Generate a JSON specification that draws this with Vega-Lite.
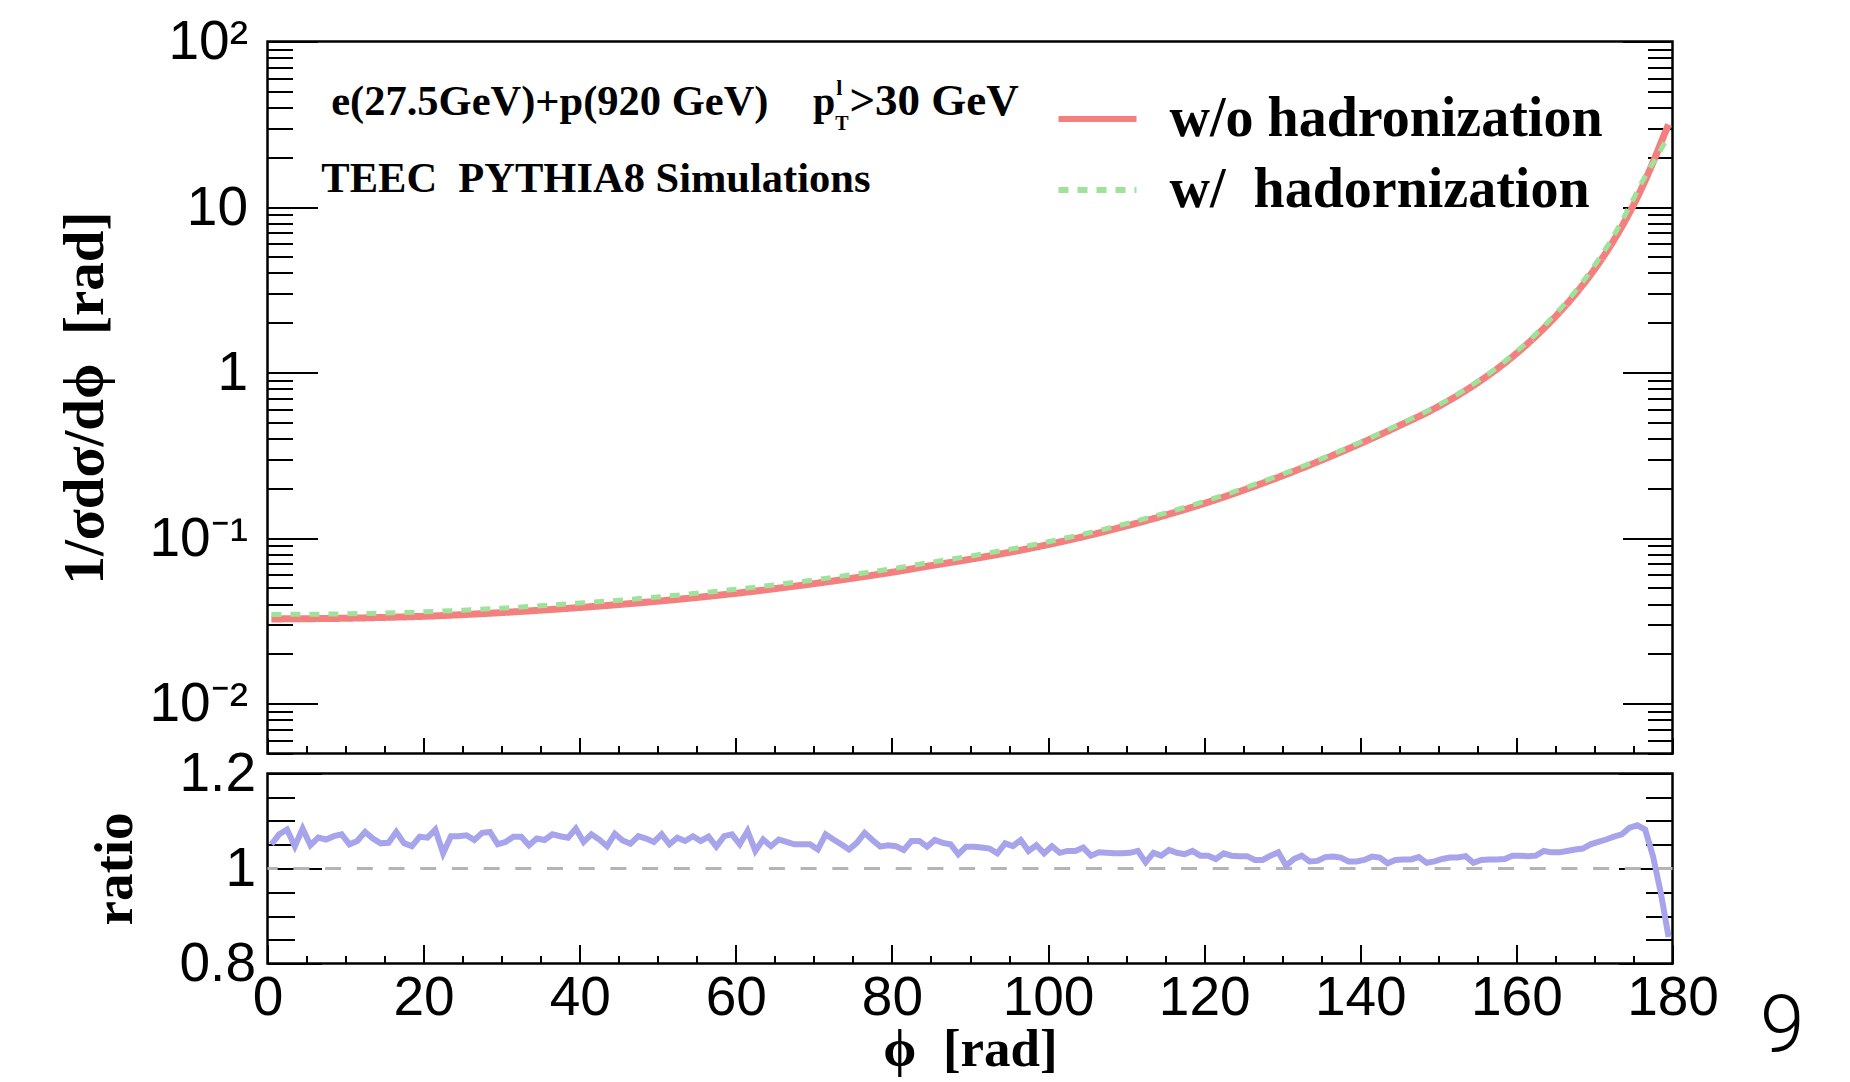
{
  "$schema": "https://vega.github.io/schema/vega-lite/v6.json",
  "padding": {"left": 54.5, "top": 12.5, "right": 5, "bottom": 5},
  "background": "white",
  "config": {
    "view": {"stroke": "black", "strokeWidth": 2.5},
    "axis": {"grid": false, "domain": false, "tickColor": "black", "tickWidth": 2, "labelColor": "black", "titleColor": "black", "labelFont": "Liberation Sans", "labelFontSize": 55, "titleFont": "Liberation Serif", "titleFontWeight": "bold", "titleFontSize": 52, "labelOverlap": false, "labelFlush": false, "labelBound": false}
  },
  "datasets": {
    "curves": [
      {"phi":0.5,"value":0.0325,"series":"w/o hadronization"},{"phi":5,"value":0.0326,"series":"w/o hadronization"},{"phi":10,"value":0.0328,"series":"w/o hadronization"},{"phi":15,"value":0.0332,"series":"w/o hadronization"},{"phi":20,"value":0.0337,"series":"w/o hadronization"},{"phi":25,"value":0.0345,"series":"w/o hadronization"},{"phi":30,"value":0.0355,"series":"w/o hadronization"},{"phi":35,"value":0.0367,"series":"w/o hadronization"},{"phi":40,"value":0.0381,"series":"w/o hadronization"},{"phi":45,"value":0.0397,"series":"w/o hadronization"},{"phi":50,"value":0.0416,"series":"w/o hadronization"},{"phi":55,"value":0.0438,"series":"w/o hadronization"},{"phi":60,"value":0.0464,"series":"w/o hadronization"},{"phi":65,"value":0.0495,"series":"w/o hadronization"},{"phi":70,"value":0.0531,"series":"w/o hadronization"},{"phi":75,"value":0.0573,"series":"w/o hadronization"},{"phi":80,"value":0.0622,"series":"w/o hadronization"},{"phi":85,"value":0.0682,"series":"w/o hadronization"},{"phi":90,"value":0.0745,"series":"w/o hadronization"},{"phi":95,"value":0.082,"series":"w/o hadronization"},{"phi":100,"value":0.0914,"series":"w/o hadronization"},{"phi":105,"value":0.1033,"series":"w/o hadronization"},{"phi":110,"value":0.1183,"series":"w/o hadronization"},{"phi":115,"value":0.1374,"series":"w/o hadronization"},{"phi":120,"value":0.1619,"series":"w/o hadronization"},{"phi":125,"value":0.1946,"series":"w/o hadronization"},{"phi":130,"value":0.2378,"series":"w/o hadronization"},{"phi":135,"value":0.2953,"series":"w/o hadronization"},{"phi":140,"value":0.3725,"series":"w/o hadronization"},{"phi":145,"value":0.4778,"series":"w/o hadronization"},{"phi":150,"value":0.6238,"series":"w/o hadronization"},{"phi":155,"value":0.8664,"series":"w/o hadronization"},{"phi":158,"value":1.094,"series":"w/o hadronization"},{"phi":160,"value":1.304,"series":"w/o hadronization"},{"phi":162,"value":1.58,"series":"w/o hadronization"},{"phi":164,"value":1.948,"series":"w/o hadronization"},{"phi":166,"value":2.449,"series":"w/o hadronization"},{"phi":168,"value":3.161,"series":"w/o hadronization"},{"phi":170,"value":4.203,"series":"w/o hadronization"},{"phi":172,"value":5.794,"series":"w/o hadronization"},{"phi":174,"value":8.387,"series":"w/o hadronization"},{"phi":175,"value":10.29,"series":"w/o hadronization"},{"phi":176,"value":12.85,"series":"w/o hadronization"},{"phi":177,"value":16.38,"series":"w/o hadronization"},{"phi":178,"value":21.22,"series":"w/o hadronization"},{"phi":179,"value":27.77,"series":"w/o hadronization"},{"phi":179.5,"value":31.5,"series":"w/o hadronization"},
      {"phi":0.5,"value":0.03458,"series":"w/  hadornization"},{"phi":5,"value":0.03469,"series":"w/  hadornization"},{"phi":10,"value":0.0349,"series":"w/  hadornization"},{"phi":15,"value":0.03532,"series":"w/  hadornization"},{"phi":20,"value":0.03586,"series":"w/  hadornization"},{"phi":25,"value":0.03671,"series":"w/  hadornization"},{"phi":30,"value":0.03777,"series":"w/  hadornization"},{"phi":35,"value":0.03905,"series":"w/  hadornization"},{"phi":40,"value":0.04054,"series":"w/  hadornization"},{"phi":45,"value":0.04216,"series":"w/  hadornization"},{"phi":50,"value":0.04414,"series":"w/  hadornization"},{"phi":55,"value":0.04643,"series":"w/  hadornization"},{"phi":60,"value":0.04909,"series":"w/  hadornization"},{"phi":65,"value":0.05222,"series":"w/  hadornization"},{"phi":70,"value":0.05591,"series":"w/  hadornization"},{"phi":75,"value":0.06028,"series":"w/  hadornization"},{"phi":80,"value":0.06531,"series":"w/  hadornization"},{"phi":85,"value":0.07147,"series":"w/  hadornization"},{"phi":90,"value":0.07785,"series":"w/  hadornization"},{"phi":95,"value":0.08553,"series":"w/  hadornization"},{"phi":100,"value":0.09506,"series":"w/  hadornization"},{"phi":105,"value":0.107,"series":"w/  hadornization"},{"phi":110,"value":0.1222,"series":"w/  hadornization"},{"phi":115,"value":0.1417,"series":"w/  hadornization"},{"phi":120,"value":0.1664,"series":"w/  hadornization"},{"phi":125,"value":0.1995,"series":"w/  hadornization"},{"phi":130,"value":0.243,"series":"w/  hadornization"},{"phi":135,"value":0.3012,"series":"w/  hadornization"},{"phi":140,"value":0.3796,"series":"w/  hadornization"},{"phi":145,"value":0.4864,"series":"w/  hadornization"},{"phi":150,"value":0.6357,"series":"w/  hadornization"},{"phi":155,"value":0.8829,"series":"w/  hadornization"},{"phi":158,"value":1.117,"series":"w/  hadornization"},{"phi":160,"value":1.338,"series":"w/  hadornization"},{"phi":162,"value":1.624,"series":"w/  hadornization"},{"phi":164,"value":2.016,"series":"w/  hadornization"},{"phi":166,"value":2.54,"series":"w/  hadornization"},{"phi":168,"value":3.294,"series":"w/  hadornization"},{"phi":170,"value":4.434,"series":"w/  hadornization"},{"phi":172,"value":6.176,"series":"w/  hadornization"},{"phi":174,"value":9.1,"series":"w/  hadornization"},{"phi":175,"value":11.22,"series":"w/  hadornization"},{"phi":176,"value":13.9,"series":"w/  hadornization"},{"phi":177,"value":16.87,"series":"w/  hadornization"},{"phi":178,"value":20.16,"series":"w/  hadornization"},{"phi":179,"value":24.44,"series":"w/  hadornization"},{"phi":179.5,"value":26.96,"series":"w/  hadornization"}
    ],
    "ratio": [
      {"phi":0.5,"r":1.051},{"phi":1.5,"r":1.072},{"phi":2.5,"r":1.082},{"phi":3.5,"r":1.047},{"phi":4.5,"r":1.084},{"phi":5.5,"r":1.049},{"phi":6.5,"r":1.065},{"phi":7.5,"r":1.061},{"phi":8.5,"r":1.068},{"phi":9.5,"r":1.072},
      {"phi":10.5,"r":1.051},{"phi":11.5,"r":1.058},{"phi":12.5,"r":1.077},{"phi":13.5,"r":1.063},{"phi":14.5,"r":1.053},{"phi":15.5,"r":1.054},{"phi":16.5,"r":1.077},{"phi":17.5,"r":1.053},{"phi":18.5,"r":1.047},{"phi":19.5,"r":1.067},
      {"phi":20.5,"r":1.065},{"phi":21.5,"r":1.082},{"phi":22.5,"r":1.032},{"phi":23.5,"r":1.068},{"phi":24.5,"r":1.068},{"phi":25.5,"r":1.070},{"phi":26.5,"r":1.060},{"phi":27.5,"r":1.075},{"phi":28.5,"r":1.077},{"phi":29.5,"r":1.051},
      {"phi":30.5,"r":1.056},{"phi":31.5,"r":1.067},{"phi":32.5,"r":1.067},{"phi":33.5,"r":1.049},{"phi":34.5,"r":1.063},{"phi":35.5,"r":1.060},{"phi":36.5,"r":1.072},{"phi":37.5,"r":1.068},{"phi":38.5,"r":1.065},{"phi":39.5,"r":1.084},
      {"phi":40.5,"r":1.056},{"phi":41.5,"r":1.072},{"phi":42.5,"r":1.061},{"phi":43.5,"r":1.047},{"phi":44.5,"r":1.073},{"phi":45.5,"r":1.059},{"phi":46.5,"r":1.052},{"phi":47.5,"r":1.068},{"phi":48.5,"r":1.063},{"phi":49.5,"r":1.056},
      {"phi":50.5,"r":1.072},{"phi":51.5,"r":1.051},{"phi":52.5,"r":1.065},{"phi":53.5,"r":1.058},{"phi":54.5,"r":1.068},{"phi":55.5,"r":1.058},{"phi":56.5,"r":1.067},{"phi":57.5,"r":1.046},{"phi":58.5,"r":1.068},{"phi":59.5,"r":1.072},
      {"phi":60.5,"r":1.051},{"phi":61.5,"r":1.079},{"phi":62.5,"r":1.037},{"phi":63.5,"r":1.061},{"phi":64.5,"r":1.047},{"phi":65.5,"r":1.061},{"phi":66.5,"r":1.056},{"phi":67.5,"r":1.051},{"phi":68.5,"r":1.051},{"phi":69.5,"r":1.051},
      {"phi":70.5,"r":1.040},{"phi":71.5,"r":1.072},{"phi":72.5,"r":1.061},{"phi":73.5,"r":1.051},{"phi":74.5,"r":1.040},{"phi":75.5,"r":1.054},{"phi":76.5,"r":1.075},{"phi":77.5,"r":1.060},{"phi":78.5,"r":1.046},{"phi":79.5,"r":1.049},
      {"phi":80.5,"r":1.047},{"phi":81.5,"r":1.039},{"phi":82.5,"r":1.058},{"phi":83.5,"r":1.058},{"phi":84.5,"r":1.046},{"phi":85.5,"r":1.060},{"phi":86.5,"r":1.054},{"phi":87.5,"r":1.051},{"phi":88.5,"r":1.030},{"phi":89.5,"r":1.046},
      {"phi":90.5,"r":1.046},{"phi":91.5,"r":1.044},{"phi":92.5,"r":1.042},{"phi":93.5,"r":1.032},{"phi":94.5,"r":1.053},{"phi":95.5,"r":1.047},{"phi":96.5,"r":1.060},{"phi":97.5,"r":1.037},{"phi":98.5,"r":1.049},{"phi":99.5,"r":1.032},
      {"phi":100.5,"r":1.047},{"phi":101.5,"r":1.033},{"phi":102.5,"r":1.037},{"phi":103.5,"r":1.037},{"phi":104.5,"r":1.044},{"phi":105.5,"r":1.027},{"phi":106.5,"r":1.034},{"phi":107.5,"r":1.033},{"phi":108.5,"r":1.032},{"phi":109.5,"r":1.032},
      {"phi":110.5,"r":1.033},{"phi":111.5,"r":1.037},{"phi":112.5,"r":1.013},{"phi":113.5,"r":1.033},{"phi":114.5,"r":1.027},{"phi":115.5,"r":1.039},{"phi":116.5,"r":1.033},{"phi":117.5,"r":1.030},{"phi":118.5,"r":1.037},{"phi":119.5,"r":1.027},
      {"phi":120.5,"r":1.027},{"phi":121.5,"r":1.020},{"phi":122.5,"r":1.032},{"phi":123.5,"r":1.027},{"phi":124.5,"r":1.026},{"phi":125.5,"r":1.026},{"phi":126.5,"r":1.018},{"phi":127.5,"r":1.018},{"phi":128.5,"r":1.027},{"phi":129.5,"r":1.034},
      {"phi":130.5,"r":1.006},{"phi":131.5,"r":1.020},{"phi":132.5,"r":1.027},{"phi":133.5,"r":1.015},{"phi":134.5,"r":1.016},{"phi":135.5,"r":1.024},{"phi":136.5,"r":1.025},{"phi":137.5,"r":1.023},{"phi":138.5,"r":1.015},{"phi":139.5,"r":1.015},
      {"phi":140.5,"r":1.018},{"phi":141.5,"r":1.025},{"phi":142.5,"r":1.023},{"phi":143.5,"r":1.011},{"phi":144.5,"r":1.018},{"phi":145.5,"r":1.019},{"phi":146.5,"r":1.019},{"phi":147.5,"r":1.024},{"phi":148.5,"r":1.012},{"phi":149.5,"r":1.015},
      {"phi":150.5,"r":1.020},{"phi":151.5,"r":1.023},{"phi":152.5,"r":1.023},{"phi":153.5,"r":1.026},{"phi":154.5,"r":1.012},{"phi":155.5,"r":1.018},{"phi":156.5,"r":1.019},{"phi":157.5,"r":1.019},{"phi":158.5,"r":1.020},{"phi":159.5,"r":1.027},
      {"phi":160.5,"r":1.027},{"phi":161.5,"r":1.026},{"phi":162.5,"r":1.027},{"phi":163.5,"r":1.037},{"phi":164.5,"r":1.034},{"phi":165.5,"r":1.034},{"phi":166.5,"r":1.037},{"phi":167.5,"r":1.040},{"phi":168.5,"r":1.042},{"phi":169.5,"r":1.051},
      {"phi":170.5,"r":1.056},{"phi":171.5,"r":1.061},{"phi":172.5,"r":1.067},{"phi":173.5,"r":1.072},{"phi":174.5,"r":1.086},{"phi":175.5,"r":1.091},{"phi":176.5,"r":1.082},{"phi":177.5,"r":1.026},{"phi":178.5,"r":0.949},{"phi":179.5,"r":0.856}
    ]
  },
  "spacing": 20,
  "bounds": "flush",
  "vconcat": [
    {
      "width": 1405,
      "height": 712,
      "resolve": {"axis": {"x": "independent", "y": "independent"}},
      "layer": [
        {
          "data": {"name": "curves"},
          "transform": [{"filter": "datum.series == 'w/o hadronization'"}],
          "mark": {"type": "line", "strokeWidth": 7, "strokeCap": "butt", "interpolate": "monotone"},
          "encoding": {
            "x": {"field": "phi", "type": "quantitative", "scale": {"domain": [0, 180], "nice": false, "zero": false},
                  "axis": {"orient": "bottom", "labels": false, "ticks": true, "tickSize": -16, "values": [0,20,40,60,80,100,120,140,160,180], "title": null}},
            "y": {"field": "value", "type": "quantitative", "scale": {"type": "log", "domain": [0.005, 100], "nice": false},
                  "axis": {"orient": "left", "ticks": false, "tickSize": 0, "labelPadding": 20, "values": [0.01, 0.1, 1, 10, 100],
                           "labelExpr": "datum.value == 100 ? '10²' : datum.value == 10 ? '10' : datum.value == 1 ? '1' : datum.value == 0.1 ? '10⁻¹' : '10⁻²'",
                           "title": "1/σdσ/dϕ\u00a0 [rad]", "titleFontSize": 57, "titleX": -182, "titleY": 356, "titleAngle": -90, "titleAlign": "center", "titleBaseline": "middle"}},
            "color": {"field": "series", "type": "nominal", "scale": {"domain": ["w/o hadronization", "w/  hadornization"], "range": ["#f47f7f", "#9fe29a"]},
                      "legend": {"orient": "none", "legendX": 788, "legendY": 35.5, "title": null, "symbolType": "stroke", "symbolSize": 6084, "symbolStrokeWidth": 6, "labelFont": "Liberation Serif", "labelFontWeight": "bold", "labelFontSize": 56, "labelColor": "black", "labelOffset": 30, "rowPadding": 1, "labelLimit": 1000, "labelExpr": "replace(datum.label, '  ', '\u00a0 ')"}},
            "strokeDash": {"field": "series", "type": "nominal", "scale": {"domain": ["w/o hadronization", "w/  hadornization"], "range": [[1, 0], [10, 9]]},
                      "legend": {"orient": "none", "legendX": 788, "legendY": 35.5, "title": null, "symbolType": "stroke", "symbolSize": 6084, "symbolStrokeWidth": 6, "labelFont": "Liberation Serif", "labelFontWeight": "bold", "labelFontSize": 56, "labelColor": "black", "labelOffset": 30, "rowPadding": 1, "labelLimit": 1000, "labelExpr": "replace(datum.label, '  ', '\u00a0 ')"}}
          }
        },
        {
          "data": {"name": "curves"},
          "transform": [{"filter": "datum.series == 'w/  hadornization'"}],
          "mark": {"type": "line", "strokeWidth": 5, "strokeCap": "butt", "interpolate": "monotone"},
          "encoding": {
            "x": {"field": "phi", "type": "quantitative",
                  "axis": {"orient": "bottom", "labels": false, "tickSize": -8, "values": [5,10,15,25,30,35,45,50,55,65,70,75,85,90,95,105,110,115,125,130,135,145,150,155,165,170,175], "title": null}},
            "y": {"field": "value", "type": "quantitative",
                  "axis": {"orient": "left", "labels": false, "tickSize": -50, "values": [0.01, 0.1, 1, 10, 100], "title": null}},
            "color": {"field": "series", "type": "nominal"},
            "strokeDash": {"field": "series", "type": "nominal"}
          }
        },
        {
          "data": {"values": [{}]},
          "mark": {"type": "text", "text": "e(27.5GeV)+p(920 GeV)", "font": "Liberation Serif", "fontWeight": "bold", "fontSize": 42.5, "align": "left", "baseline": "alphabetic", "color": "black"},
          "encoding": {
            "x": {"datum": 8.16, "type": "quantitative", "axis": null},
            "y": {"datum": 36.2, "type": "quantitative",
                  "axis": {"orient": "left", "labels": false, "tickSize": -25, "values": [0.005,0.006,0.007,0.008,0.009,0.02,0.03,0.04,0.05,0.06,0.07,0.08,0.09,0.2,0.3,0.4,0.5,0.6,0.7,0.8,0.9,2,3,4,5,6,7,8,9,20,30,40,50,60,70,80,90], "title": null}}
          }
        },
        {
          "data": {"values": [{}]},
          "mark": {"type": "text", "text": "TEEC\u00a0 PYTHIA8 Simulations", "font": "Liberation Serif", "fontWeight": "bold", "fontSize": 42.5, "align": "left", "baseline": "alphabetic", "color": "black"},
          "encoding": {
            "x": {"datum": 6.9, "type": "quantitative", "axis": null},
            "y": {"datum": 12.4, "type": "quantitative",
                  "axis": {"orient": "right", "labels": false, "tickSize": -50, "values": [0.01, 0.1, 1, 10, 100], "title": null}}
          }
        },
        {
          "data": {"values": [{}]},
          "mark": {"type": "text", "text": "p", "font": "Liberation Serif", "fontWeight": "bold", "fontSize": 40, "align": "left", "baseline": "alphabetic", "color": "black"},
          "encoding": {
            "x": {"datum": 69.9, "type": "quantitative", "axis": null},
            "y": {"datum": 36.2, "type": "quantitative",
                  "axis": {"orient": "right", "labels": false, "tickSize": -25, "values": [0.005,0.006,0.007,0.008,0.009,0.02,0.03,0.04,0.05,0.06,0.07,0.08,0.09,0.2,0.3,0.4,0.5,0.6,0.7,0.8,0.9,2,3,4,5,6,7,8,9,20,30,40,50,60,70,80,90], "title": null}}
          }
        },
        {
          "data": {"values": [{}]},
          "mark": {"type": "text", "text": "l", "font": "Liberation Serif", "fontWeight": "bold", "fontSize": 22, "align": "left", "baseline": "alphabetic", "color": "black"},
          "encoding": {
            "x": {"datum": 72.85, "type": "quantitative", "axis": null},
            "y": {"datum": 47.2, "type": "quantitative", "axis": null}
          }
        },
        {
          "data": {"values": [{}]},
          "mark": {"type": "text", "text": "T", "font": "Liberation Serif", "fontWeight": "bold", "fontSize": 20, "align": "left", "baseline": "alphabetic", "color": "black"},
          "encoding": {
            "x": {"datum": 72.75, "type": "quantitative", "axis": null},
            "y": {"datum": 29.0, "type": "quantitative", "axis": null}
          }
        },
        {
          "data": {"values": [{}]},
          "mark": {"type": "text", "text": ">30 GeV", "font": "Liberation Serif", "fontWeight": "bold", "fontSize": 45, "align": "left", "baseline": "alphabetic", "color": "black"},
          "encoding": {
            "x": {"datum": 74.55, "type": "quantitative", "axis": null},
            "y": {"datum": 36.2, "type": "quantitative", "axis": null}
          }
        }
      ]
    },
    {
      "width": 1405,
      "height": 190,
      "resolve": {"axis": {"x": "independent", "y": "independent"}},
      "layer": [
        {
          "data": {"values": [{}]},
          "mark": {"type": "rule", "strokeDash": [16, 15.7], "strokeWidth": 3, "color": "#b4b4b4"},
          "encoding": {
            "y": {"datum": 1, "type": "quantitative", "scale": {"domain": [0.8, 1.2], "nice": false, "zero": false},
                  "axis": {"orient": "left", "labels": false, "tickSize": -54, "values": [0.8, 1, 1.2], "title": null}}
          }
        },
        {
          "data": {"name": "ratio"},
          "mark": {"type": "line", "strokeWidth": 6, "color": "#a7a4ec"},
          "encoding": {
            "x": {"field": "phi", "type": "quantitative", "scale": {"domain": [0, 180], "nice": false, "zero": false},
                  "axis": {"orient": "bottom", "ticks": false, "tickSize": 0, "labelPadding": 8, "values": [0,20,40,60,80,100,120,140,160,180],
                           "title": "ϕ\u00a0 [rad]", "titleFontSize": 53, "titleY": 102, "titleBaseline": "alphabetic", "titleAlign": "center"}},
            "y": {"field": "r", "type": "quantitative",
                  "axis": {"orient": "left", "ticks": false, "tickSize": 0, "labelPadding": 12, "values": [0.8, 1, 1.2],
                           "labelExpr": "datum.value == 1 ? '1' : format(datum.value, '.1f')",
                           "title": "ratio", "titleFontSize": 55, "titleX": -153, "titleY": 95, "titleAngle": -90, "titleAlign": "center", "titleBaseline": "middle"}}
          }
        },
        {
          "data": {"values": [{}]},
          "mark": {"type": "text", "text": "9", "font": "Roboto", "fontWeight": 300, "fontSize": 80, "align": "center", "baseline": "alphabetic", "color": "black"},
          "encoding": {
            "x": {"datum": 194.05, "type": "quantitative",
                  "axis": {"orient": "bottom", "labels": false, "tickSize": -19, "values": [0,20,40,60,80,100,120,140,160,180], "title": null}},
            "y": {"datum": 0.614, "type": "quantitative",
                  "axis": {"orient": "left", "labels": false, "tickSize": -27, "values": [0.85, 0.9, 0.95, 1.05, 1.1, 1.15], "title": null}}
          }
        },
        {
          "data": {"values": [{}]},
          "mark": {"type": "text", "text": ""},
          "encoding": {
            "x": {"datum": 90, "type": "quantitative",
                  "axis": {"orient": "bottom", "labels": false, "tickSize": -8, "values": [5,10,15,25,30,35,45,50,55,65,70,75,85,90,95,105,110,115,125,130,135,145,150,155,165,170,175], "title": null}},
            "y": {"datum": 1, "type": "quantitative",
                  "axis": {"orient": "right", "labels": false, "tickSize": -54, "values": [0.8, 1, 1.2], "title": null}}
          }
        },
        {
          "data": {"values": [{}]},
          "mark": {"type": "text", "text": ""},
          "encoding": {
            "x": {"datum": 90, "type": "quantitative", "axis": null},
            "y": {"datum": 1, "type": "quantitative",
                  "axis": {"orient": "right", "labels": false, "tickSize": -27, "values": [0.85, 0.9, 0.95, 1.05, 1.1, 1.15], "title": null}}
          }
        }
      ]
    }
  ]
}
